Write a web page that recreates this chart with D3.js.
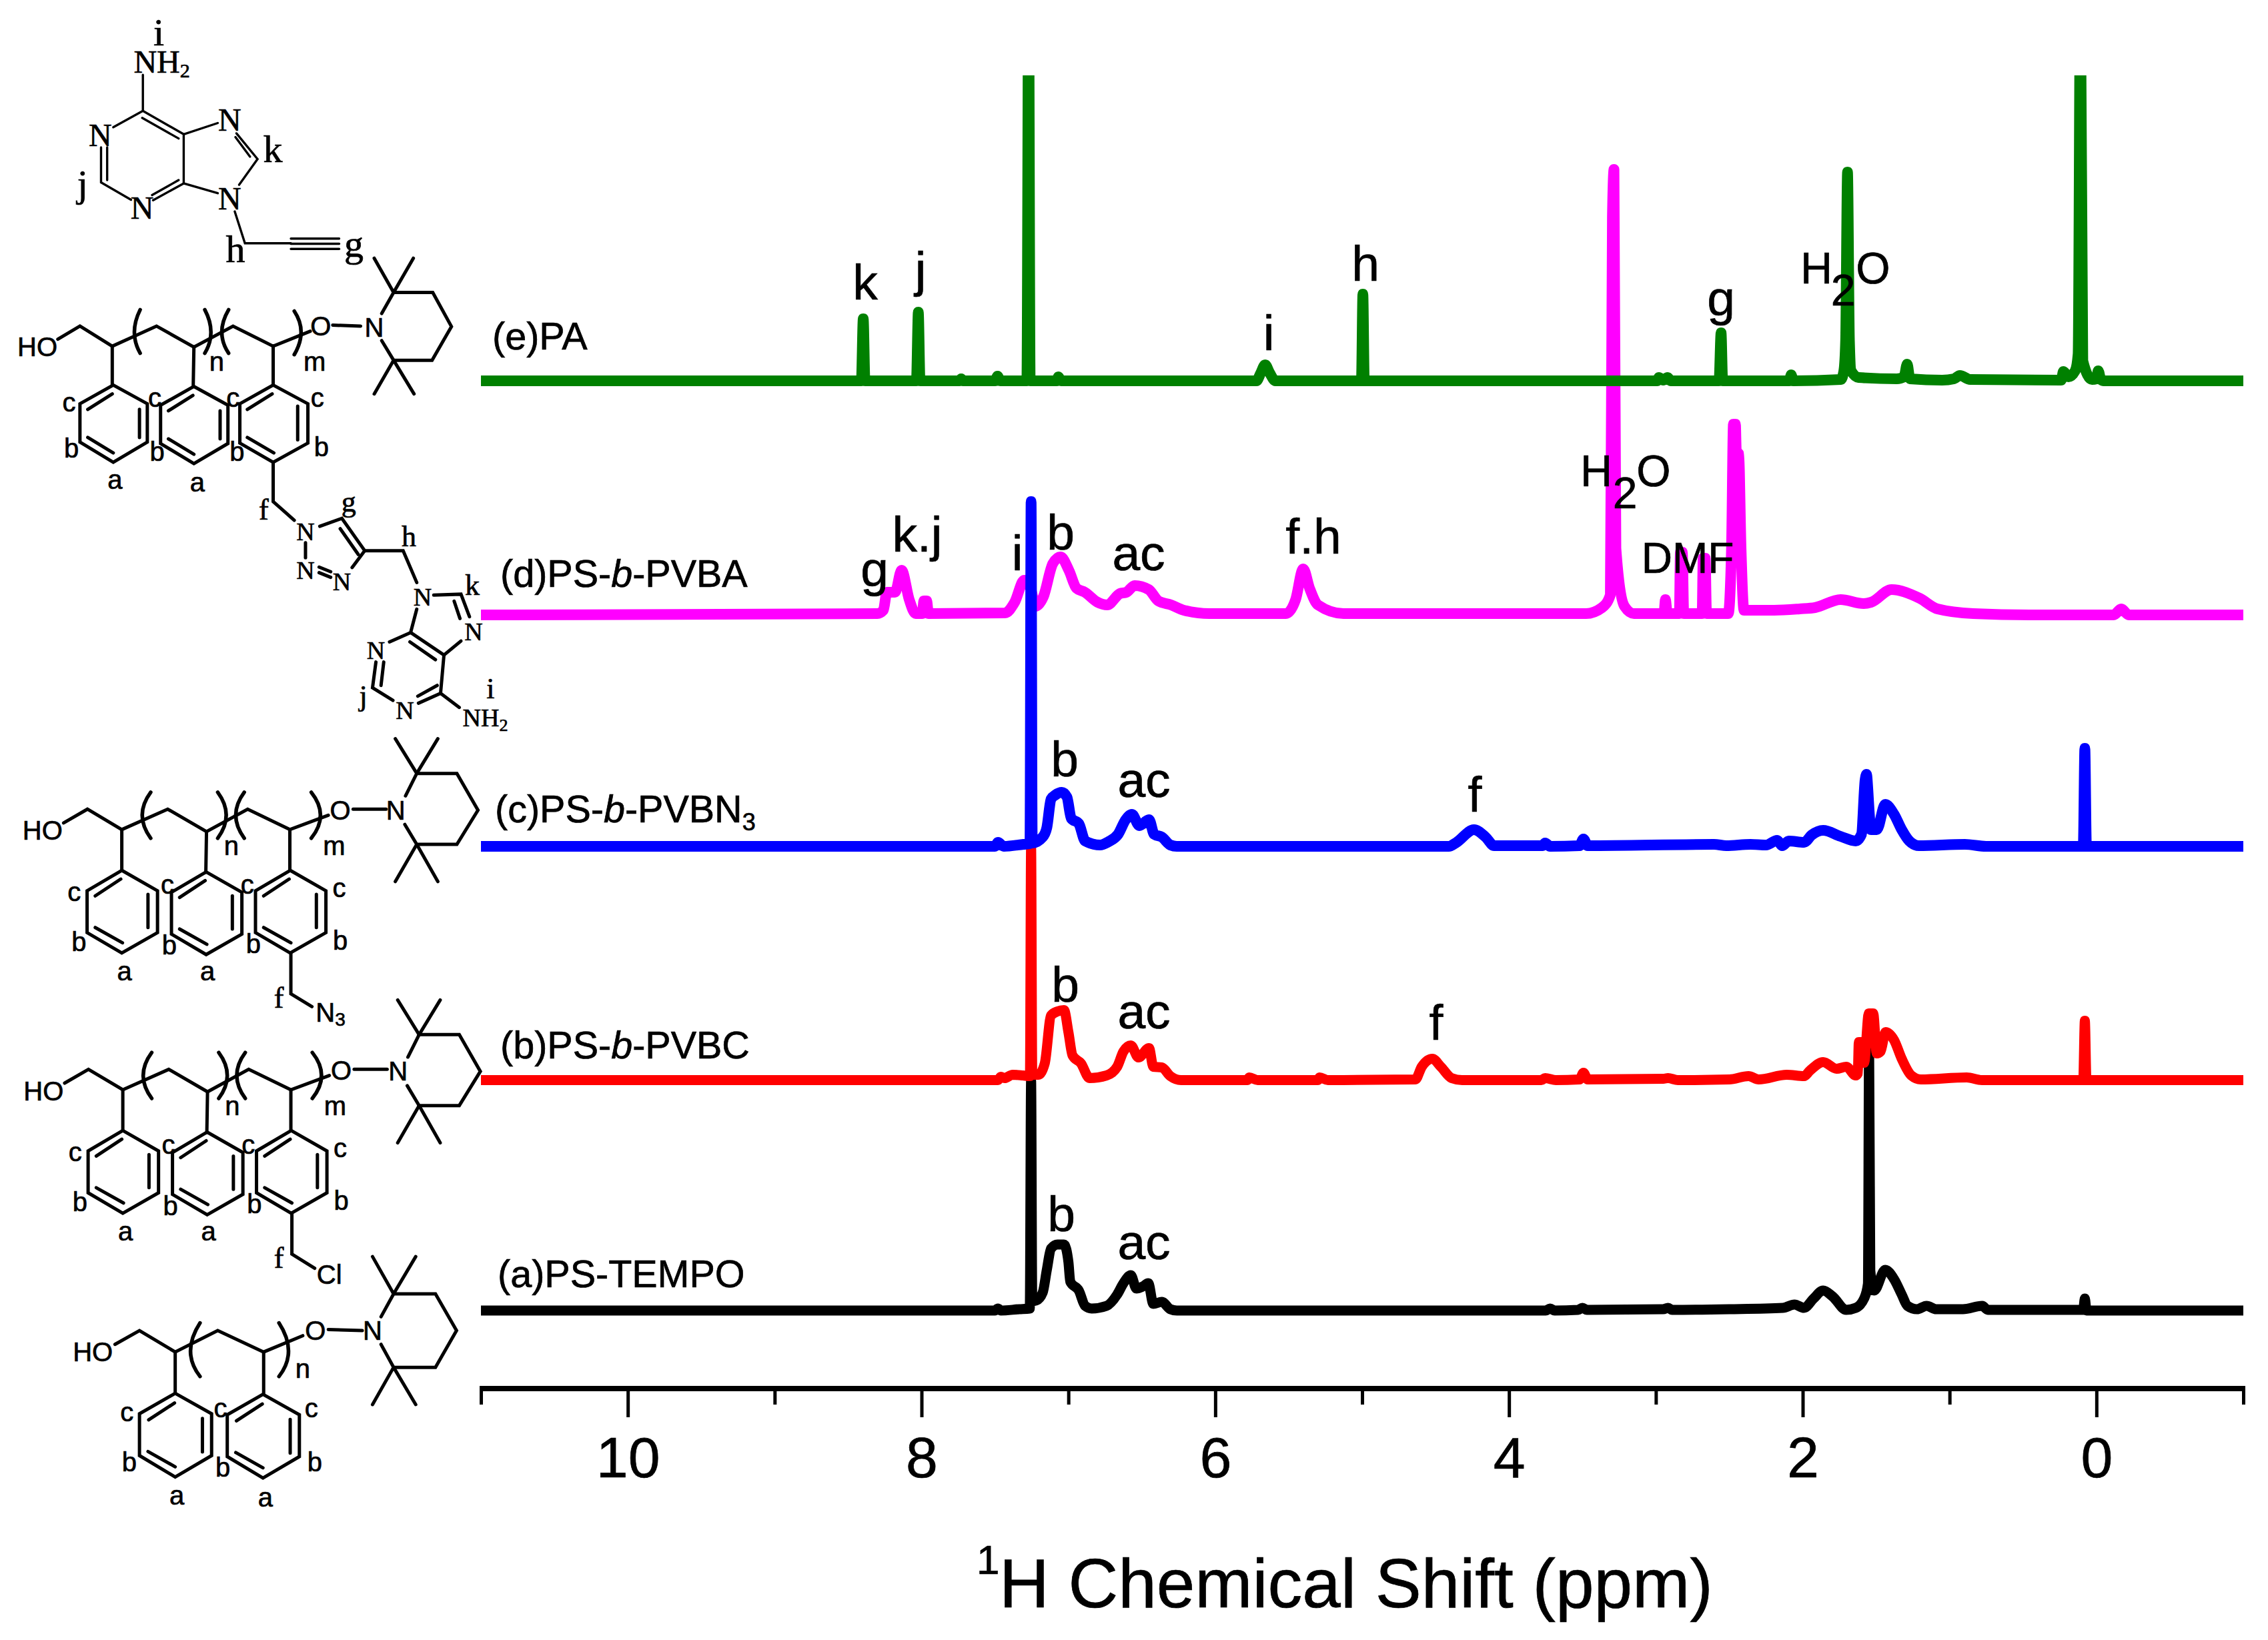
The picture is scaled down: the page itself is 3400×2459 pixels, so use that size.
<!DOCTYPE html>
<html><head><meta charset="utf-8">
<script src="https://cdn.jsdelivr.net/npm/d3@7"></script>
<style>html,body{margin:0;background:#fff}svg{display:block}text{stroke:#000;stroke-width:.7px}</style>
</head><body><svg id="c" width="3400" height="2459"></svg>
<script>
// ---------- DATA: [chemical shift (ppm), intensity (a.u.)] ----------
const ticksMajor = [10, 8, 6, 4, 2, 0];
const ticksMinor = [11, 9, 7, 5, 3, 1, -1];
const seriesNames = ["a", "b", "d", "c", "e"];
const seriesOffsets = { a: 0, b: 345.5, c: 696, d: 1043, e: 1394 };
const seriesColors = { a: "#000000", b: "#ff0000", c: "#0000ff", d: "#ff00ff", e: "#008000" };

const spectrumA = [[11,0],[7.5,0],[7.48,3],[7.46,0],[7.335,2],[7.263,3],[7.254,345],[7.246,14],[7.219,15],[7.175,27],[7.147,61],[7.118,93],[7.074,99],[7.03,99],[7.0,73],[6.987,43],[6.929,30],[6.886,7],[6.842,3],[6.74,7],[6.668,24],[6.625,41],[6.575,53],[6.537,33],[6.494,36],[6.456,41],[6.422,10],[6.364,13],[6.306,2],[6.262,0],[3.75,0],[3.72,3],[3.69,0],[3.53,1],[3.5,4],[3.47,1],[2.95,2],[2.917,4],[2.89,1],[2.5,2],[2.135,4],[2.056,9],[1.991,4],[1.926,18],[1.861,30],[1.796,21],[1.704,1],[1.639,4],[1.582,18],[1.556,40],[1.548,400],[1.54,60],[1.514,30],[1.438,61],[1.378,47],[1.326,24],[1.287,7],[1.222,2],[1.157,7],[1.091,2],[0.909,2],[0.778,7],[0.74,1],[0.09,1],[0.079,18],[0.068,0],[-1,0]];
const spectrumB = [[11,0],[7.48,0],[7.46,5],[7.435,3],[7.38,8],[7.31,7],[7.262,6],[7.254,350],[7.246,8],[7.205,8],[7.161,25],[7.118,97],[7.074,103],[7.03,105],[7.0,72],[6.972,37],[6.914,25],[6.856,3],[6.74,7],[6.668,20],[6.625,43],[6.575,52],[6.523,34],[6.451,48],[6.422,20],[6.364,19],[6.306,6],[6.233,0],[5.78,0],[5.769,4],[5.711,0],[5.3,0],[5.29,4],[5.233,0],[4.638,1],[4.594,20],[4.522,32],[4.464,20],[4.391,3],[4.319,0],[3.78,0],[3.754,3],[3.681,0],[3.52,1],[3.493,11],[3.464,1],[2.95,2],[2.917,3],[2.85,0],[2.5,1],[2.369,6],[2.3,1],[2.109,8],[1.991,6],[1.952,14],[1.861,27],[1.769,17],[1.704,20],[1.639,7],[1.625,10],[1.618,57],[1.6,57],[1.582,26],[1.55,100],[1.52,100],[1.496,40],[1.47,43],[1.436,72],[1.378,60],[1.326,32],[1.261,7],[1.196,1],[0.883,4],[0.78,0],[0.09,0],[0.079,89],[0.068,0],[-1,0]];
const spectrumC = [[11,0],[7.5,0],[7.48,6],[7.44,0],[7.305,3],[7.262,4],[7.254,517],[7.246,5],[7.175,14],[7.147,28],[7.118,71],[7.089,77],[7.045,81],[7.01,74],[6.981,42],[6.929,34],[6.886,8],[6.784,2],[6.726,7],[6.662,18],[6.61,40],[6.567,48],[6.517,31],[6.451,40],[6.416,18],[6.364,14],[6.306,2],[6.262,0],[4.41,0],[4.363,5],[4.238,25],[4.16,14],[4.101,1],[3.77,1],[3.754,5],[3.72,0],[3.52,1],[3.493,11],[3.464,1],[2.604,3],[2.52,1],[2.356,3],[2.25,2],[2.174,9],[2.14,1],[2.095,8],[1.991,6],[1.939,17],[1.861,24],[1.743,15],[1.639,8],[1.6,18],[1.575,100],[1.566,108],[1.555,80],[1.548,54],[1.535,25],[1.496,25],[1.438,63],[1.378,48],[1.326,25],[1.274,8],[1.209,1],[0.896,3],[0.752,0],[0.09,0],[0.079,147],[0.068,0],[-1,0]];
const spectrumD = [[11,0],[8.301,2],[8.26,7],[8.236,34],[8.18,34],[8.136,67],[8.084,23],[8.04,2],[7.995,2],[7.984,21],[7.965,21],[7.953,2],[7.432,3],[7.366,19],[7.301,52],[7.258,40],[7.223,13],[7.171,27],[7.106,77],[7.053,87],[6.997,67],[6.945,40],[6.888,34],[6.801,19],[6.736,15],[6.649,32],[6.605,34],[6.549,44],[6.453,38],[6.388,21],[6.301,15],[6.214,7],[6.04,2],[5.519,2],[5.453,23],[5.401,69],[5.358,40],[5.301,15],[5.127,2],[3.475,2],[3.366,11],[3.31,30],[3.296,597],[3.285,668],[3.272,100],[3.214,13],[3.149,2],[2.975,2],[2.945,2],[2.935,23],[2.922,2],[2.84,2],[2.833,94],[2.82,94],[2.81,2],[2.685,2],[2.678,85],[2.664,85],[2.655,2],[2.507,2],[2.485,100],[2.472,286],[2.458,286],[2.452,245],[2.436,242],[2.42,100],[2.4,7],[2.194,7],[2.021,9],[1.916,11],[1.742,23],[1.586,17],[1.534,19],[1.395,38],[1.204,25],[1.082,9],[0.839,2],[0.456,0],[-0.117,0],[-0.169,9],[-0.22,0],[-1,0]];
const spectrumE = [[11,0],[8.41,0],[8.397,93],[8.385,0],[8.035,0],[8.022,103],[8.01,0],[7.74,0],[7.73,3],[7.72,0],[7.5,0],[7.482,7],[7.465,0],[7.283,0],[7.271,600],[7.26,0],[7.08,0],[7.068,6],[7.05,0],[5.72,0],[5.69,12],[5.66,24],[5.63,12],[5.59,0],[5.005,0],[4.995,130],[4.985,0],[2.99,0],[2.98,5],[2.95,1],[2.92,5],[2.9,0],[2.57,0],[2.556,72],[2.545,0],[2.09,0],[2.079,9],[2.065,0],[1.74,2],[1.72,15],[1.708,60],[1.695,313],[1.682,60],[1.67,15],[1.62,5],[1.36,3],[1.31,6],[1.289,25],[1.27,3],[1.05,1],[0.97,3],[0.93,8],[0.86,2],[0.24,1],[0.225,14],[0.19,6],[0.145,15],[0.125,40],[0.109,600],[0.093,30],[0.03,2],[0.0,3],[-0.012,15],[-0.03,2],[-0.05,0],[-1,0]];
const spectra = { a: spectrumA, b: spectrumB, c: spectrumC, d: spectrumD, e: spectrumE };

const seriesLabels = [
  { parts: [["(a)PS-TEMPO"]], x: 746, y: 1930 },
  { parts: [["(b)PS-"], ["b", "i"], ["-PVBC"]], x: 750, y: 1587 },
  { parts: [["(c)PS-"], ["b", "i"], ["-PVBN"], ["3", "s"]], x: 742, y: 1233 },
  { parts: [["(d)PS-"], ["b", "i"], ["-PVBA"]], x: 750, y: 880 },
  { parts: [["(e)PA"]], x: 738, y: 524 }
];
const peakLabels = [
  ["k",1297,449],["j",1380,430],["i",1902,525],["h",2047,421],["g",2580,473],
  ["g",1311,879],["k.j",1375,827],["i",1525,855],["b",1590,824],["ac",1707,855],["f.h",1969,830],
  ["b",1596,1164],["ac",1715,1195],["f",2211,1217],
  ["b",1597,1502],["ac",1715,1542],["f",2153,1559],
  ["b",1591,1846],["ac",1715,1888]
];
const solventLabels = [
  { h: 2393, two: 2436, o: 2479, y: 729 },
  { h: 2723, two: 2763, o: 2808, y: 425 }
];
const dmfLabel = { text: "DMF", x: 2530, y: 859 };

// ---------- CHART ----------
const svg = d3.select("#c");
const SANS = "'Liberation Sans', Arial, sans-serif", SERIF = "'Liberation Serif', 'Times New Roman', serif";
const x = d3.scaleLinear().domain([11, -1]).range([721, 3363]);
const y = d3.scaleLinear().domain([0, 1852]).range([1965, 113]);

svg.append("defs").append("clipPath").attr("id", "plot").append("rect")
  .attr("x", 715).attr("y", 113).attr("width", 2660).attr("height", 1969);

const line = d3.line().curve(d3.curveMonotoneX);
const traces = svg.append("g").attr("clip-path", "url(#plot)");
seriesNames.forEach(k => {
  traces.append("path")
    .attr("d", line.x(d => x(d[0])).y(d => y(d[1] + seriesOffsets[k]))(spectra[k]))
    .attr("fill", "none").attr("stroke", seriesColors[k])
    .attr("stroke-width", (k === "a" || k === "b") ? 15 : 16)
    .attr("stroke-linejoin", "round");
});

// axis
const axisY = 2082;
const gMinor = svg.append("g").attr("transform", `translate(0,${axisY})`)
  .call(d3.axisBottom(x).tickValues(ticksMinor).tickSizeOuter(0).tickSizeInner(24).tickFormat(""));
const gMajor = svg.append("g").attr("transform", `translate(0,${axisY})`)
  .call(d3.axisBottom(x).tickValues(ticksMajor).tickSizeOuter(0).tickSizeInner(43).tickPadding(0));
[gMinor, gMajor].forEach(g => {
  g.selectAll("line").attr("stroke", "#000").attr("stroke-width", 5);
  g.select(".domain").attr("stroke", "#000").attr("stroke-width", 8).attr("d", "M719,0H3366");
});
gMajor.selectAll("text").attr("font-family", SANS).attr("font-size", 86).attr("fill", "#000")
  .attr("dy", 0).attr("y", 133);

const title = svg.append("text").attr("font-family", SANS).attr("fill", "#000").attr("y", 2410);
title.append("tspan").attr("x", 1464).attr("y", 2360).attr("font-size", 62).text("1");
title.append("tspan").attr("x", 1498).attr("y", 2410).attr("font-size", 103.5).text("H Chemical Shift (ppm)");

// series names
seriesLabels.forEach(l => {
  const t = svg.append("text").attr("x", l.x).attr("y", l.y).attr("font-family", SANS).attr("font-size", 57.5);
  l.parts.forEach(([s, st]) => {
    const sp = t.append("tspan").text(s);
    if (st === "i") sp.attr("font-style", "italic");
    if (st === "s") sp.attr("font-size", 36).attr("dy", 12);
  });
});
peakLabels.forEach(([s, px, py]) => svg.append("text").attr("x", px).attr("y", py)
  .attr("text-anchor", "middle").attr("font-family", SANS).attr("font-size", 75).text(s));
solventLabels.forEach(l => {
  const g = svg.append("g").attr("font-family", SANS).attr("font-size", 66).attr("text-anchor", "middle");
  g.append("text").attr("x", l.h).attr("y", l.y).text("H");
  g.append("text").attr("x", l.two).attr("y", l.y + 33).text("2");
  g.append("text").attr("x", l.o).attr("y", l.y).text("O");
});
svg.append("text").attr("x", dmfLabel.x).attr("y", dmfLabel.y).attr("text-anchor", "middle")
  .attr("font-family", SANS).attr("font-size", 64).text(dmfLabel.text);

// ---------- STRUCTURE DRAWINGS (decorative) ----------
const S = svg.append("g").attr("fill", "none").attr("stroke", "#000").attr("stroke-linecap", "round").attr("stroke-linejoin", "miter");
const sx = .51, y1 = .7015, y2 = .765;
const BOND = 5;
const m1 = (p) => [p[0] * sx, p[1] * y1];
const m2 = (p) => [p[0] * sx, 1100 + p[1] * y2];
function poly(map, pts, w, dx = 0, dy = 0, closed = false) {
  const d = pts.map((p, i) => (i ? "L" : "M") + map([p[0] + dx, p[1] + dy]).join(",")).join("") + (closed ? "Z" : "");
  S.append("path").attr("d", d).attr("stroke-width", w);
}
function curve(map, a, b, c, w, dx = 0, dy = 0) {
  const A = map([a[0] + dx, a[1] + dy]), B = map([b[0] + dx, b[1] + dy]), C = map([c[0] + dx, c[1] + dy]);
  const ctrl = [2 * B[0] - (A[0] + C[0]) / 2, 2 * B[1] - (A[1] + C[1]) / 2];
  S.append("path").attr("d", `M${A}Q${ctrl} ${C}`).attr("stroke-width", w);
}
function lbl(map, s, px, py, size, font = SANS, dx = 0, dy = 0) {
  const P = map([px + dx, py + dy]);
  return svg.append("text").attr("x", P[0]).attr("y", P[1]).attr("dy", ".35em").attr("text-anchor", "middle")
    .attr("font-family", font).attr("font-size", size).text(s);
}
function nh2(map, px, py, size, sub) {
  const P = map([px, py]);
  const t = svg.append("text").attr("x", P[0]).attr("y", P[1]).attr("font-family", SERIF).attr("font-size", size).text("NH");
  t.append("tspan").attr("font-size", sub).attr("dy", 7).text("2");
}

// (e) free adenine
[[[420,160],[420,237],[333,272]],[[420,237],[540,287],[540,392],[640,413]],[[418,252],[525,296]],
 [[540,287],[640,263]],[[695,285],[757,340],[703,395]],[[692,293],[735,335]],
 [[540,392],[450,428]],[[525,385],[447,417]],[[385,427],[297,390],[297,315]],[[315,385],[315,315]],
 [[690,452],[720,520],[855,520]],[[855,510],[997,510]],[[855,521],[997,521]],[[855,532],[997,532]]]
 .forEach(p => poly(m1, p, 3.4));
[["N",295,288],["N",675,255],["N",675,423],["N",418,443]].forEach(a => lbl(m1, a[0], a[1], a[2], 48, SERIF));
[["k",802,318],["j",243,392],["i",467,68],["h",692,532],["g",1040,520]].forEach(a => lbl(m1, a[0], a[1], a[2], 58, SERIF));
nh2(m1, 393, 155, 48, 30);

// polymer (d)
poly(m1, [[170,725],[235,697],[330,740],[460,697],[570,742],[685,697],[803,740],[912,708]], BOND);
[[[330,740],[330,823]],[[570,742],[568,825]],[[803,740],[803,823]]].forEach(p => poly(m1, p, BOND));
[[0,0],[237,3]].forEach(([dx,dy]) => {
  poly(m1, [[333,823],[433,863],[433,945],[333,988],[235,945],[235,863]], BOND, dx, dy, true);
  [[[330,842],[258,875]],[[410,875],[410,935]],[[258,935],[333,968]]].forEach(p => poly(m1, p, BOND, dx, dy));
});
poly(m1, [[803,823],[905,863],[905,947],[803,988],[705,947],[705,863]], BOND, 0, 0, true);
[[[800,842],[727,875]],[[875,868],[875,940]],[[727,935],[805,968]]].forEach(p => poly(m1, p, BOND));
curve(m1,[412,662],[395,710],[412,755],5.5); curve(m1,[602,662],[620,710],[602,755],5.5);
curve(m1,[672,662],[652,710],[672,755],5.5); curve(m1,[865,665],[885,710],[865,758],5.5);
lbl(m1,"HO",110,741,40);
[["O",943,697],["N",1100,700]].forEach(a => lbl(m1,a[0],a[1],a[2],40));
poly(m1,[[978,695],[1060,697]],BOND);
poly(m1,[[1122,670],[1157,625],[1272,625],[1327,698],[1270,770],[1157,770],[1122,728]],BOND);
[[[1157,625],[1100,552]],[[1157,625],[1215,552]],[[1157,770],[1100,842]],[[1157,770],[1217,842]]].forEach(p=>poly(m1,p,BOND));
[["c",203,860],["b",210,958],["a",338,1025],["c",455,850],["b",462,965],["a",580,1030],["c",685,850],["b",697,965],["c",933,850],["b",945,955],["n",637,772],["m",925,772]].forEach(a=>lbl(m1,a[0],a[1],a[2],40));
[[[803,988],[803,1072],[865,1112]],[[898,1160],[898,1192]],[[938,1212],[972,1222]],[[938,1224],[972,1234]],[[940,1125],[1005,1108],[1072,1177],[1035,1213]],[[1000,1130],[1053,1185]],[[1072,1177],[1185,1177],[1225,1245]],
 [[1275,1272],[1355,1270],[1380,1318]],[[1335,1285],[1352,1322]],[[1225,1302],[1207,1352],[1145,1372]],[[1207,1352],[1305,1400],[1355,1370]],[[1205,1372],[1280,1410]],[[1305,1400],[1295,1482],[1230,1503]],[[1285,1465],[1228,1488]],[[1155,1497],[1095,1470],[1105,1415]],[[1120,1465],[1128,1415]],[[1295,1482],[1350,1512]]]
 .forEach(p=>poly(m1,p,BOND));
[["N",898,1135],["N",898,1218],["N",1005,1242],["N",1242,1275],["N",1392,1350],["N",1105,1390],["N",1190,1518]].forEach(a=>lbl(m1,a[0],a[1],a[2],38,SERIF));
[["f",775,1088],["g",1025,1072],["h",1202,1145],["k",1388,1250],["j",1068,1486],["i",1442,1470]].forEach(a=>lbl(m1,a[0],a[1],a[2],44,SERIF));
nh2(m1,1360,1552,38,26);

// polymers (c), (b)
function block(dx, dy, tx, ty, tail, tailLabels) {
  poly(m2,[[187,175],[257,148],[358,188],[493,148],[607,192],[728,148],[852,188],[965,160]],BOND,dx,dy);
  [[[358,188],[358,268]],[[607,192],[605,272]],[[852,188],[852,268]]].forEach(p=>poly(m2,p,BOND,dx,dy));
  [[0,0],[248,3],[495,0]].forEach(([a,b])=>{
    poly(m2,[[358,268],[463,308],[463,390],[358,430],[256,390],[256,308]],BOND,dx+a,dy+b,true);
    [[[355,285],[280,318]],[[435,315],[435,380]],[[280,380],[360,410]]].forEach(p=>poly(m2,p,BOND,dx+a,dy+b));
  });
  curve(m2,[443,115],[418,160],[443,205],5.5,dx,dy); curve(m2,[640,115],[665,160],[640,205],5.5,dx,dy);
  curve(m2,[718,115],[693,160],[718,205],5.5,dx,dy); curve(m2,[915,115],[942,160],[915,205],5.5,dx,dy);
  lbl(m2,"HO",125,190,40,SANS,dx,dy);
  lbl(m2,"O",1000,150,40,SANS,dx,dy);
  lbl(m2,"N",1163,150,40,SANS,tx,ty);
  poly(m2,[[1038,148],[1135,148]],BOND,dx,dy);
  poly(m2,[[1192,122],[1225,78],[1343,78],[1405,150],[1343,217],[1225,217],[1190,178]],BOND,tx,ty);
  [[[1225,78],[1162,10]],[[1225,78],[1287,10]],[[1225,217],[1162,290]],[[1225,217],[1287,290]]].forEach(p=>poly(m2,p,BOND,tx,ty));
  [["c",218,310],["b",232,408],["a",366,465],["c",492,295],["b",498,415],["a",610,465],["c",727,295],["b",745,412],["c",997,302],["b",1000,405],["n",680,220],["m",982,220]]
    .forEach(a=>lbl(m2,a[0],a[1],a[2],40,SANS,dx,dy));
  poly(m2,tail,BOND);
  tailLabels();
}
block(0,0,0,0,[[855,430],[855,510],[917,535]],()=>{
  lbl(m2,"f",820,517,44,SERIF);
  const P=m2([928,565]);
  const t=svg.append("text").attr("x",P[0]).attr("y",P[1]).attr("font-family",SANS).attr("font-size",40).text("N");
  t.append("tspan").attr("font-size",28).attr("dy",6).text("3");
});
block(3,510,7,512,[[858,940],[858,1020],[925,1048]],()=>{
  lbl(m2,"f",820,1027,44,SERIF);
  lbl(m2,"Cl",968,1060,40);
});

// polymer (a)
poly(m2,[[338,1197],[410,1170],[515,1212],[640,1170],[775,1212],[890,1180]],BOND);
[[[515,1212],[515,1293]],[[775,1212],[775,1293]]].forEach(p=>poly(m2,p,BOND));
[[0,0],[258,2]].forEach(([a,b])=>{
  poly(m2,[[515,1293],[622,1333],[622,1415],[515,1457],[410,1415],[410,1333]],BOND,a,b,true);
  [[[513,1312],[437,1345]],[[595,1342],[595,1408]],[[435,1407],[515,1437]]].forEach(p=>poly(m2,p,BOND,a,b));
});
curve(m2,[588,1155],[560,1210],[588,1260],5.5); curve(m2,[820,1155],[848,1210],[820,1260],5.5);
lbl(m2,"HO",273,1212,40); lbl(m2,"O",927,1170,40); lbl(m2,"N",1095,1170,40);
poly(m2,[[965,1168],[1065,1170]],BOND);
poly(m2,[[1120,1143],[1157,1098],[1280,1098],[1342,1170],[1280,1242],[1157,1242],[1120,1197]],BOND);
[[[1157,1098],[1095,1025]],[[1157,1098],[1222,1025]],[[1157,1242],[1095,1315]],[[1157,1242],[1222,1315]]].forEach(p=>poly(m2,p,BOND));
[["c",373,1330],["b",380,1428],["a",520,1493],["c",648,1322],["b",655,1438],["a",780,1497],["c",915,1322],["b",925,1428],["n",890,1245]].forEach(a=>lbl(m2,a[0],a[1],a[2],40));
</script></body></html>
